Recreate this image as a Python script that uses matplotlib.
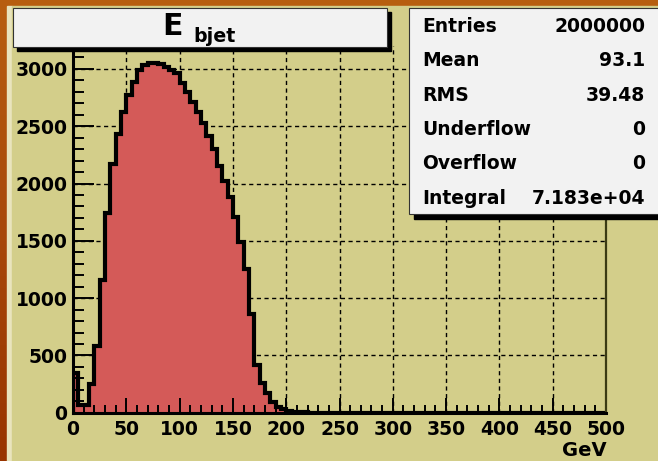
import numpy as np
import matplotlib
matplotlib.use('Agg')
import matplotlib.pyplot as plt
from matplotlib.patches import Rectangle
from matplotlib.colors import LinearSegmentedColormap

# ======== Data ========
bin_lo, bin_hi, n_bins = 0, 500, 100
counts = [
    350, 70, 70, 250, 585, 1155, 1745, 2170, 2430, 2625,      # 0 - 50
    2775, 2890, 2990, 3030, 3048, 3050, 3040, 3015, 2992, 2962,  # 50 - 100
    2880, 2800, 2710, 2620, 2530, 2415, 2300, 2155, 2025, 1880,  # 100 - 150
    1705, 1490, 1252, 860, 417, 257, 170, 97, 52, 29,          # 150 - 200
    15, 9, 5, 3, 2, 1, 1, 0, 0, 0,
] + [0] * 50

x_major = list(range(0, 501, 50))
x_minor = list(range(0, 501, 10))
y_major = list(range(0, 3001, 500))
y_minor = list(range(0, 3201, 100))

title_main = 'E'
title_sub = 'bjet'
x_unit = 'GeV'
stat_names = ['Entries', 'Mean', 'RMS', 'Underflow', 'Overflow', 'Integral']
stat_values = ['2000000', '93.1', '39.48', '0', '0', '7.183e+04']

# ======== Layout helpers (pixel -> figure fraction) ========
W, H = 658, 461


def fx(x):
    return x / W


def fy(y):
    return 1 - y / H


def box(x0, y0, x1, y1, **kw):
    # rectangle given in pixel coords (top-left origin)
    return Rectangle((fx(x0), fy(y1)), fx(x1) - fx(x0), fy(y0) - fy(y1),
                     transform=fig.transFigure, **kw)


plt.rcParams['font.family'] = ['DejaVu Sans']
plt.rcParams['font.weight'] = 'bold'

fig = plt.figure(figsize=(W / 100, H / 100), dpi=100)
fig.patch.set_facecolor('#a8470a')

# ---- orange window background ----
bg = fig.add_axes([0, 0, 1, 1], zorder=-3)
grad = np.linspace(0, 1, 256).reshape(-1, 1)
cmap = LinearSegmentedColormap.from_list('bg', ['#b85f10', '#a8480a', '#983400'])
bg.imshow(grad, aspect='auto', cmap=cmap, extent=[0, 1, 0, 1])
bg.axis('off')

# ---- khaki pad with light bevel on the left ----
fig.add_artist(box(7, 6, 12, H, color='#e9e4bd', zorder=-2))
fig.add_artist(box(12, 6, W, H, color='#d3ce8a', zorder=-2))

# ---- main frame ----
ax = fig.add_axes([fx(73), fy(412.8), fx(606) - fx(73), fy(46) - fy(412.8)])
ax.set_facecolor('none')
ax.set_xlim(bin_lo, bin_hi)
ax.set_ylim(0, 3200)

dash = (0, (3, 2.5))
for v in x_major[1:-1]:
    ax.axvline(v, color='k', lw=1.0, ls=dash, zorder=0.5)
for v in y_major[1:]:
    ax.axhline(v, color='k', lw=1.0, ls=dash, zorder=0.5)

edges = np.linspace(bin_lo, bin_hi, n_bins + 1)
ax.stairs(counts, edges, fill=True, color='#d45a58', zorder=1)
outline = ax.stairs(counts, edges, baseline=0, color='k', lw=3, zorder=1.5)
outline.set_joinstyle('miter')

ax.set_xticks(x_major)
ax.set_xticks(x_minor, minor=True)
ax.set_yticks(y_major)
ax.set_yticks(y_minor, minor=True)
ax.tick_params(which='both', direction='in', color='k', width=1.4,
               top=False, right=False, labelsize=13.5)
ax.tick_params(axis='x', which='major', length=11, pad=5)
ax.tick_params(axis='x', which='minor', length=5.5)
ax.tick_params(axis='y', which='major', length=15, pad=4)
ax.tick_params(axis='y', which='minor', length=8)
for lab in ax.get_xticklabels() + ax.get_yticklabels():
    lab.set_fontweight('bold')

ax.spines['top'].set_visible(False)
ax.spines['left'].set_linewidth(2.2)
ax.spines['bottom'].set_linewidth(2.2)
ax.spines['right'].set_linewidth(1.6)
ax.spines['right'].set_color('#3b3b14')

fig.text(fx(607), fy(456), x_unit, ha='right', va='baseline',
         fontsize=14, fontweight='bold')

# ---- title box ----
fig.add_artist(box(17, 12, 391, 51, color='k', zorder=2))
fig.add_artist(box(13, 8, 387, 47, fc='#f2f2f2', ec='#333333', lw=0.8, zorder=2.1))
fig.text(fx(162), fy(35), title_main, ha='left', va='baseline',
         fontsize=21.5, fontweight='bold', zorder=3)
fig.text(fx(193), fy(42.5), title_sub, ha='left', va='baseline',
         fontsize=13.7, fontweight='bold', zorder=3)

# ---- stats box ----
fig.add_artist(box(414, 13, W + 5, 219, color='k', zorder=2))
fig.add_artist(box(409, 8, W + 4, 214, fc='#f2f2f2', ec='#333333', lw=0.8, zorder=2.1))
for i, (name, val) in enumerate(zip(stat_names, stat_values)):
    yb = 32 + 34.3 * i
    fig.text(fx(422), fy(yb), name, ha='left', va='baseline',
             fontsize=13.5, fontweight='bold', zorder=3)
    fig.text(fx(645), fy(yb), val, ha='right', va='baseline',
             fontsize=13.5, fontweight='bold', zorder=3)

fig.savefig('out.png', dpi=100, facecolor=fig.get_facecolor())
